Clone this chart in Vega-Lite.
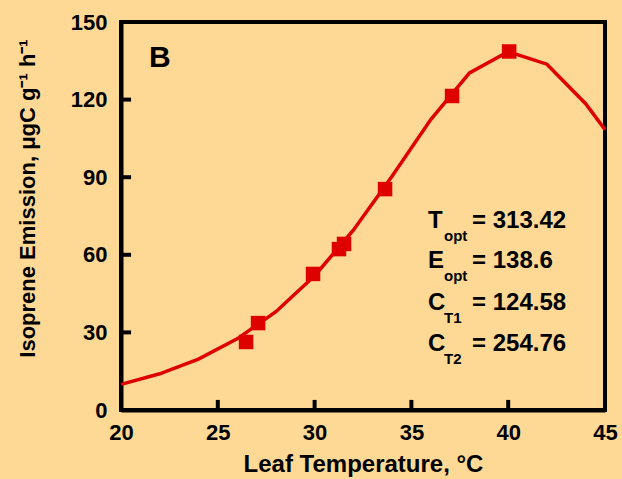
{
  "$schema": "https://vega.github.io/schema/vega-lite/v6.json",
  "width": 484,
  "height": 388,
  "autosize": {"type": "none"},
  "padding": {"left": 121, "top": 22, "right": 17, "bottom": 69},
  "background": "#FDD995",
  "config": {
    "view": {"stroke": "black", "strokeWidth": 4},
    "axis": {
      "grid": false,
      "zindex": 1,
      "ticks": false,
      "domainColor": "black",
      "domainWidth": 4,
      "labelFont": "Liberation Sans",
      "labelFontWeight": "bold",
      "labelFontSize": 22,
      "labelColor": "black",
      "titleFont": "Liberation Sans",
      "titleFontWeight": "bold",
      "titleFontSize": 24,
      "titleColor": "black"
    }
  },
  "datasets": {
    "model": [
      {"t": 20, "e": 9.9},
      {"t": 22, "e": 14.0},
      {"t": 24, "e": 19.7},
      {"t": 26, "e": 27.5},
      {"t": 28, "e": 38.0},
      {"t": 30, "e": 51.9},
      {"t": 32, "e": 69.5},
      {"t": 34, "e": 90.4},
      {"t": 36, "e": 112.3},
      {"t": 38, "e": 130.3},
      {"t": 40, "e": 138.5},
      {"t": 42, "e": 133.7},
      {"t": 44, "e": 118.4},
      {"t": 45, "e": 108.4}
    ],
    "obs": [
      {"t": 26.46, "e": 26.3},
      {"t": 27.08, "e": 33.6},
      {"t": 29.92, "e": 52.6},
      {"t": 31.26, "e": 62.2},
      {"t": 31.52, "e": 64.2},
      {"t": 33.64, "e": 85.4},
      {"t": 37.1, "e": 121.4},
      {"t": 40.05, "e": 138.6}
    ],
    "xticks": [{"v": 25}, {"v": 30}, {"v": 35}, {"v": 40}],
    "yticks": [{"v": 30}, {"v": 60}, {"v": 90}, {"v": 120}],
    "params": [
      {"b": "T", "s": "opt", "v": "= 313.42", "y": 70.3},
      {"b": "E", "s": "opt", "v": "= 138.6", "y": 54.9},
      {"b": "C", "s": "T1", "v": "= 124.58", "y": 38.7},
      {"b": "C", "s": "T2", "v": "= 254.76", "y": 22.8}
    ],
    "panel": [{"label": "B", "t": 21.45, "e": 132.6}]
  },
  "layer": [
    {
      "data": {"name": "model"},
      "mark": {"type": "line", "color": "#DF0000", "strokeWidth": 3.5},
      "encoding": {
        "x": {"field": "t", "type": "quantitative", "scale": {"domain": [20, 45], "nice": false, "zero": false},
              "axis": {"values": [20, 25, 30, 35, 40, 45], "title": "Leaf Temperature, °C", "labelPadding": 12, "titlePadding": 9, "labelFlush": false}},
        "y": {"field": "e", "type": "quantitative", "scale": {"domain": [0, 150], "nice": false},
              "axis": {"values": [0, 30, 60, 90, 120, 150], "title": "Isoprene Emission, μgC g⁻¹ h⁻¹", "titleFontSize": 22, "labelPadding": 14, "titlePadding": 31, "titleY": 176, "labelFlush": false}}
      }
    },
    {
      "data": {"name": "xticks"},
      "mark": {"type": "rule", "color": "black", "strokeWidth": 4},
      "encoding": {
        "x": {"field": "v", "type": "quantitative"},
        "y": {"datum": 0},
        "y2": {"datum": 3.9}
      }
    },
    {
      "data": {"name": "yticks"},
      "mark": {"type": "rule", "color": "black", "strokeWidth": 4},
      "encoding": {
        "y": {"field": "v", "type": "quantitative"},
        "x": {"datum": 20},
        "x2": {"datum": 20.52}
      }
    },
    {
      "data": {"name": "obs"},
      "mark": {"type": "square", "color": "#DF0000", "opacity": 1, "size": 210},
      "encoding": {
        "x": {"field": "t", "type": "quantitative"},
        "y": {"field": "e", "type": "quantitative"}
      }
    },
    {
      "data": {"name": "panel"},
      "mark": {"type": "text", "font": "Liberation Sans", "fontWeight": "bold", "fontSize": 30, "align": "left", "baseline": "alphabetic", "color": "black"},
      "encoding": {
        "x": {"field": "t", "type": "quantitative"},
        "y": {"field": "e", "type": "quantitative"},
        "text": {"field": "label"}
      }
    },
    {
      "data": {"name": "params"},
      "mark": {"type": "text", "font": "Liberation Sans", "fontWeight": "bold", "fontSize": 24, "align": "left", "baseline": "alphabetic", "color": "black"},
      "encoding": {
        "x": {"datum": 35.86},
        "y": {"field": "y", "type": "quantitative"},
        "text": {"field": "b"}
      }
    },
    {
      "data": {"name": "params"},
      "mark": {"type": "text", "font": "Liberation Sans", "fontWeight": "bold", "fontSize": 15, "align": "left", "baseline": "alphabetic", "dx": 16, "dy": 13, "color": "black"},
      "encoding": {
        "x": {"datum": 35.86},
        "y": {"field": "y", "type": "quantitative"},
        "text": {"field": "s"}
      }
    },
    {
      "data": {"name": "params"},
      "mark": {"type": "text", "font": "Liberation Sans", "fontWeight": "bold", "fontSize": 24, "align": "left", "baseline": "alphabetic", "dx": 44, "color": "black"},
      "encoding": {
        "x": {"datum": 35.86},
        "y": {"field": "y", "type": "quantitative"},
        "text": {"field": "v"}
      }
    }
  ]
}
